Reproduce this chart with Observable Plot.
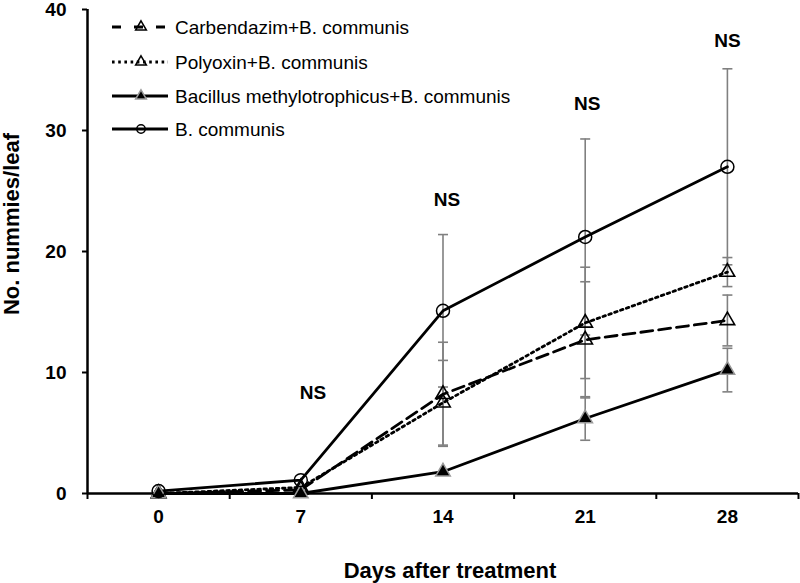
<!DOCTYPE html>
<html>
<head>
<meta charset="utf-8">
<script src="https://cdn.jsdelivr.net/npm/d3@7"></script>
<script src="https://cdn.jsdelivr.net/npm/@observablehq/plot@0.6"></script>
<style>
  html, body { margin: 0; padding: 0; background: #fff; }
  #wrap { position: relative; width: 800px; height: 583px; }
  #wrap svg { position: absolute; left: 0; top: 0; }
</style>
</head>
<body>
<div id="wrap"></div>
<script>
// ---- data ----
const days = [0, 7, 14, 21, 28];
const seriesNames = ["Carbendazim+B. communis", "Polyoxin+B. communis", "Bacillus methylotrophicus+B. communis", "B. communis"];
const carbendazimMean = [0, 0.3, 8.2, 12.7, 14.3];
const carbendazimSE   = [0, 0, 4.3, 4.8, 2.1];
const polyoxinMean    = [0, 0.5, 7.5, 14.1, 18.3];
const polyoxinSE      = [0, 0, 3.5, 4.6, 1.2];
const bacillusMean    = [0, 0, 1.8, 6.2, 10.2];
const bacillusSE      = [0, 0, 0, 1.8, 1.8];
const communisMean    = [0.2, 1.1, 15.1, 21.2, 27.0];
const communisSE      = [0, 0, 6.3, 8.1, 8.1];
const yTicks = [0, 10, 20, 30, 40];
const xBoundaries = [-3.5, 3.5, 10.5, 17.5, 24.5, 31.5];
const nsX = [7.6, 14.2, 21.1, 28];
const nsY = [8.3, 24.3, 32.2, 37.4];
const nsLabel = "NS";
const xTitle = "Days after treatment";
const yTitle = "No. nummies/leaf";

const means = [carbendazimMean, polyoxinMean, bacillusMean, communisMean];
const ses = [carbendazimSE, polyoxinSE, bacillusSE, communisSE];
const rows = [];
seriesNames.forEach((s, i) => days.forEach((d, j) => rows.push({series: s, idx: i, day: d, mean: means[i][j], se: ses[i][j]})));
const errRows = rows.filter(r => r.se > 0);
const bySeries = i => rows.filter(r => r.idx === i);

const FONT = "'Liberation Sans', Arial, Helvetica, sans-serif";
const capSymbol = {draw(ctx, size) { const r = Math.sqrt(size / Math.PI); ctx.moveTo(-r, 0); ctx.lineTo(r, 0); }};
const dashes = ["12,6", "2.6,3.6", null, null];
const LW = 2.8;

const markerFor = (i, data, opts = {}) => {
  if (i === 3) return Plot.dot(data, {...opts, symbol: "circle", r: 6.5, fill: "none", stroke: "black", strokeWidth: 1.5});
  if (i === 2) return Plot.dot(data, {...opts, symbol: "triangle", r: 5.4, fill: "black", stroke: "#999", strokeWidth: 1.5});
  return Plot.dot(data, {...opts, symbol: "triangle", r: 5.4, fill: "none", stroke: "black", strokeWidth: 1.6});
};

const chart = Plot.plot({
  width: 800, height: 583,
  marginLeft: 87, marginRight: 2, marginTop: 9, marginBottom: 90,
  x: {domain: [-3.5, 31.5]},
  y: {domain: [0, 40]},
  style: {fontFamily: FONT, fontSize: "19px", fontWeight: "bold", color: "black", background: "transparent"},
  marks: [
    Plot.axisY({ticks: yTicks, tickSize: 5, tickPadding: 16, strokeWidth: 2, label: null, fontSize: 19, fontWeight: "bold"}),
    Plot.axisX({ticks: xBoundaries, tickSize: 6, strokeWidth: 2, tickFormat: () => "", label: null}),
    Plot.axisX({ticks: days, tickSize: 0, tickPadding: 16, label: null, fontSize: 19, fontWeight: "bold"}),
    Plot.ruleX([-3.5], {stroke: "black", strokeWidth: 2.5}),
    Plot.ruleY([0], {stroke: "black", strokeWidth: 2.5}),
    // error bars
    Plot.ruleX(errRows, {x: "day", y1: d => d.mean - d.se, y2: d => d.mean + d.se, stroke: "#808080", strokeWidth: 1.6}),
    Plot.dot(errRows, {x: "day", y: d => d.mean + d.se, symbol: capSymbol, r: 5, stroke: "#808080", strokeWidth: 1.6}),
    Plot.dot(errRows, {x: "day", y: d => d.mean - d.se, symbol: capSymbol, r: 5, stroke: "#808080", strokeWidth: 1.6}),
    // lines
    ...seriesNames.map((s, i) => Plot.line(bySeries(i), {x: "day", y: "mean", stroke: "black", strokeWidth: LW, strokeDasharray: dashes[i] || undefined})),
    // markers
    ...seriesNames.map((s, i) => markerFor(i, bySeries(i), {x: "day", y: "mean"})),
    // NS labels
    Plot.text(nsX, {x: d => d, y: (d, i) => nsY[i], text: () => nsLabel, fontSize: 19, fontWeight: "bold", fill: "black"})
  ]
});
document.getElementById("wrap").appendChild(chart);

// overlay: legend and axis titles
const ov = d3.select("#wrap").append("svg").attr("width", 800).attr("height", 583)
  .style("font-family", FONT);
ov.append("text").attr("x", 450).attr("y", 578).attr("text-anchor", "middle")
  .attr("font-size", 22).attr("font-weight", "bold").text(xTitle);
ov.append("text").attr("transform", "translate(19,224) rotate(-90)").attr("text-anchor", "middle")
  .attr("font-size", 22).attr("font-weight", "bold").text(yTitle);

const legY = [27, 62, 96, 129];
seriesNames.forEach((s, i) => {
  const g = ov.append("g").attr("transform", `translate(0,${legY[i]})`);
  const ln = g.append("line").attr("x1", 112).attr("x2", 168).attr("y1", 0).attr("y2", 0)
    .attr("stroke", "black").attr("stroke-width", LW);
  if (i === 0) ln.attr("stroke-dasharray", "9,13");
  if (i === 1) ln.attr("stroke-dasharray", "2.6,3.6");
  const sym = d3.symbol().type(i === 3 ? d3.symbolCircle : d3.symbolTriangle).size(i === 3 ? Math.PI * 4.2 * 4.2 : Math.PI * 4 * 4);
  g.append("path").attr("d", sym()).attr("transform", "translate(141,0)")
    .attr("fill", i === 2 ? "black" : "none")
    .attr("stroke", i === 2 ? "#999" : "black").attr("stroke-width", 1.5);
  g.append("text").attr("x", 175).attr("y", 7).attr("font-size", 19).text(s);
});
</script>
</body>
</html>
